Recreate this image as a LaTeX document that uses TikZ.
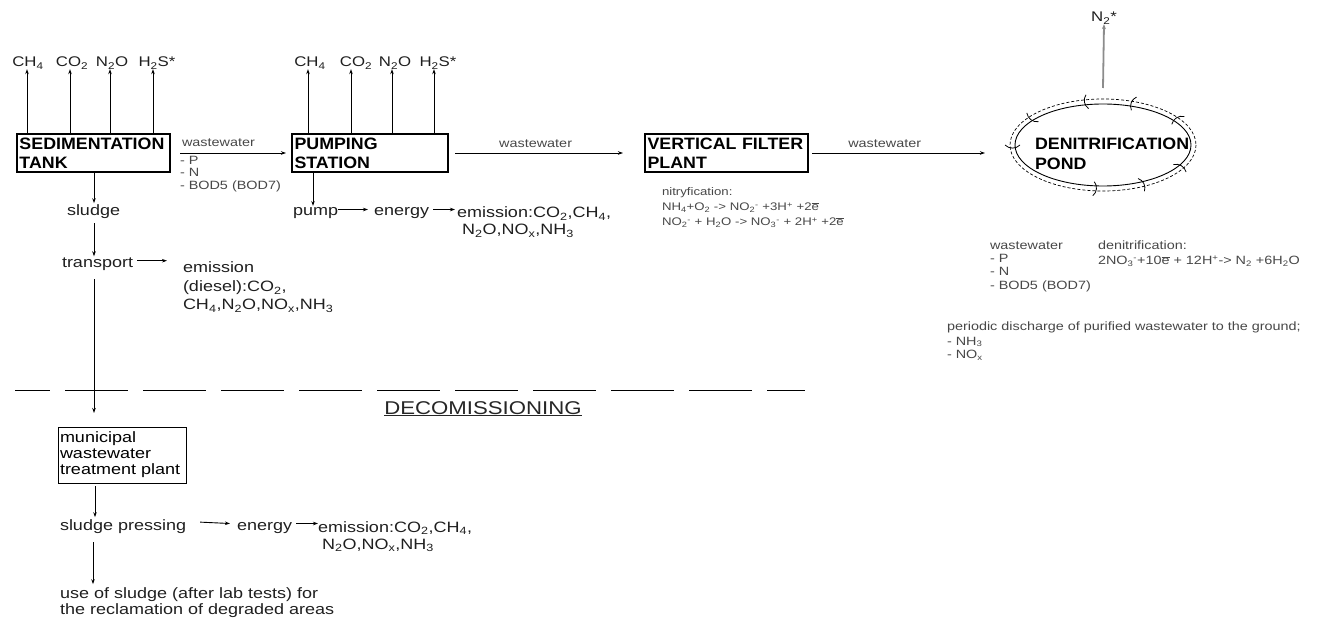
\documentclass[tikz,border=0pt]{standalone}
\usepackage{fontspec}
\setmainfont{Liberation Sans}[FakeStretch=1.2]
\newfontfamily\tfont{Liberation Sans}[FakeStretch=1.08]
\usetikzlibrary{arrows.meta,shapes.geometric}
\newcommand{\sbs}[1]{\textsubscript{#1}}
\newcommand{\sps}[1]{\textsuperscript{#1}}
\newcommand{\ionx}[2]{\textsubscript{#1}\textsuperscript{#2}}
\newcommand{\elec}{$\overline{\mbox{e}}$}
\newcommand{\fgas}{\fontsize{14}{16}\selectfont}
\newcommand{\flbl}{\fontsize{15}{16}\selectfont}
\newcommand{\fsmall}{\fontsize{12}{13}\selectfont}
\newcommand{\feq}{\fontsize{11}{12}\selectfont}
\newcommand{\ftitle}{\tfont\bfseries\fontsize{16.5}{19}\selectfont}
\newcommand{\fdec}{\fontsize{18.5}{20}\selectfont}
\begin{document}
\begin{tikzpicture}[x=1pt,y=-1pt,
  every node/.style={inner sep=0pt, outer sep=0pt},
  lbl/.style={anchor=base west, font=\flbl, text=black!88},
  gas/.style={anchor=base, font=\fgas, text=black!88},
  sm/.style={anchor=base west, font=\fsmall, text=black!72},
  eqn/.style={anchor=base west, font=\feq, text=black!72},
  boxn/.style={draw, line width=1.1pt, anchor=north west, align=left, font=\ftitle, inner xsep=1.5pt, inner ysep=1pt},
  arr/.style={-{Stealth[length=5pt,width=3.5pt]}, line width=0.9pt},
  mk/.style={line width=0.8pt}]
\useasboundingbox (0,0) rectangle (1323,620);

% ---- boxes
\node[boxn, minimum width=153pt, minimum height=38pt, text width=148pt] (sed) at (17,134) {SEDIMENTATION\\TANK};
\node[boxn, minimum width=156pt, minimum height=38pt, text width=151pt] (pst) at (292,134) {PUMPING\\STATION};
\node[boxn, minimum width=163pt, minimum height=38pt, text width=158pt] (vfp) at (645,134) {VERTICAL FILTER\\PLANT};
\node[boxn, minimum width=128pt, minimum height=56pt, text width=124pt, font=\fontsize{15}{16}\selectfont, line width=1pt] (muni) at (58,427) {municipal\\wastewater\\treatment plant};

% ---- pond
\node[ellipse, draw, line width=0.9pt, minimum width=176pt, minimum height=82pt] (pond) at (1103,145) {};
\draw[dash pattern=on 3pt off 2pt, line width=0.7pt] (pond.center) ellipse [x radius=93, y radius=46];
\foreach \t in {-100,-70,-141,180,96,65,-34,32}
  \draw[mk] ([shift={(pond.center)}]\t:83 and 37) to[bend left=45] ([shift={(pond.center)}]\t:98 and 51);
\node[anchor=base west, font=\ftitle] (pondt1) at (1035,150) {DENITRIFICATION};
\node[anchor=base west, font=\ftitle] (pondt2) at (1035,170) {POND};

% ---- gases above sedimentation tank
\node[gas] (g1) at (28,67) {CH\sbs{4}};
\node[gas] (g2) at (72,67) {CO\sbs{2}};
\node[gas] (g3) at (112,67) {N\sbs{2}O};
\node[gas] (g4) at (157,67) {H\sbs{2}S*};
\foreach \g/\x in {g1/27,g2/70,g3/110,g4/153}
  \draw[arr] (sed.north -| \x,0) -- (\x,0 |- \g.south);
% ---- gases above pumping station
\node[gas] (h1) at (310,67) {CH\sbs{4}};
\node[gas] (h2) at (356,67) {CO\sbs{2}};
\node[gas] (h3) at (395,67) {N\sbs{2}O};
\node[gas] (h4) at (438,67) {H\sbs{2}S*};
\foreach \g/\x in {h1/308,h2/351,h3/392,h4/434}
  \draw[arr] (pst.north -| \x,0) -- (\x,0 |- \g.south);

% ---- sedimentation -> pumping
\draw[arr] ([xshift=10pt]sed.east) -- ([xshift=-6pt]pst.west);
\node[sm] (ww1) at (182,147) {wastewater};
\node[sm] (p1) at (180,165) {- P};
\node[sm] (n1) at (180,177) {- N};
\node[sm] (b1) at (180,190) {- BOD5 (BOD7)};

% ---- pumping -> filter -> pond
\draw[arr] ([xshift=7pt]pst.east) -- node[pos=0.48, above=5pt, font=\fsmall, text=black!72] (ww2) {wastewater} ([xshift=-22pt]vfp.west);
\coordinate (pin) at ([xshift=-30pt]pond.west |- vfp.east);
\draw[arr] ([xshift=4pt]vfp.east) -- node[pos=0.42, above=5pt, font=\fsmall, text=black!72] (ww3) {wastewater} (pin);

% ---- nitrification
\node[eqn] (nit1) at (662,196) {nitryfication:};
\node[eqn] (nit2) at (662,211) {NH\sbs{4}+O\sbs{2} -{}> NO\ionx{2}{-} +3H\sps{+} +2\elec};
\node[eqn] (nit3) at (662,226) {NO\ionx{2}{-} + H\sbs{2}O -{}> NO\ionx{3}{-} + 2H\sps{+} +2\elec};

% ---- N2 out of pond
\node[gas] (n2) at (1104,22) {N\sbs{2}*};
\draw[-{Stealth[length=5pt,width=4pt]}, line width=1.8pt, draw=black!45] ([yshift=16pt]pond.north) -- (n2.south);

% ---- below pond
\node[sm] (pw) at (990,250) {wastewater};
\node[sm] (pp) at (990,263) {- P};
\node[sm] (pn) at (990,276) {- N};
\node[sm] (pb) at (990,290) {- BOD5 (BOD7)};
\node[sm] (den1) at (1098,250) {denitrification:};
\node[sm] (den2) at (1098,265) {2NO\ionx{3}{-}+10\elec{} + 12H\sps{+}-{}> N\sbs{2} +6H\sbs{2}O};
\node[sm] (per1) at (947,331) {periodic discharge of purified wastewater to the ground;};
\node[sm] (per2) at (947,345) {- NH\sbs{3}};
\node[sm] (per3) at (947,359) {- NO\sbs{x}};

% ---- sludge line
\node[lbl] (sludge) at (67,216) {sludge};
\node[lbl] (transp) at (62,268) {transport};
\node[lbl] (em1a) at (183,273) {emission};
\node[lbl] (em1b) at (183,292) {(diesel):CO\sbs{2},};
\node[lbl] (em1c) at (183,310) {CH\sbs{4},N\sbs{2}O,NO\sbs{x},NH\sbs{3}};
\draw[arr] (sed.south -| 94,0) -- ([yshift=2pt]94,0 |- sludge.north);
\draw[arr] ([yshift=-4pt]94,0 |- sludge.south) -- ([yshift=2pt]94,0 |- transp.north);
\draw[arr] ([xshift=4pt,yshift=4pt]transp.east) -- ([xshift=-16pt,yshift=4pt]em1a.west |- transp.east);
\draw[arr] ([yshift=-8pt]94,0 |- transp.south) -- ([yshift=14pt]94,0 |- muni.north);

% ---- pump line
\node[lbl] (pump) at (293,216) {pump};
\node[lbl] (en1) at (374,216) {energy};
\node[lbl] (em2a) at (457,218) {emission:CO\sbs{2},CH\sbs{4},};
\node[lbl] (em2b) at (462,235) {N\sbs{2}O,NO\sbs{x},NH\sbs{3}};
\draw[arr] (pst.south -| 313,0) -- ([yshift=2pt]313,0 |- pump.north);
\draw[arr] ([yshift=4pt]pump.east) -- ([xshift=-6pt,yshift=4pt]en1.west);
\draw[arr] ([xshift=4pt,yshift=4pt]en1.east) -- ([xshift=-2pt,yshift=4pt]em2a.west |- en1.east);

% ---- decommissioning separator
\coordinate (dl) at (15,390);
\coordinate (dr) at (805,390);
\draw[line width=1pt, dash pattern=on 63pt off 15pt, dash phase=28pt] (dl) -- (dr);
\node[anchor=base, font=\fdec, text=black!85] (decom) at (483,414) {\underline{DECOMISSIONING}};

% ---- after decommissioning
\node[lbl] (spr) at (60,530) {sludge pressing};
\node[lbl] (en2) at (237,530) {energy};
\node[lbl] (em3a) at (318,532) {emission:CO\sbs{2},CH\sbs{4},};
\node[lbl] (em3b) at (322,549) {N\sbs{2}O,NO\sbs{x},NH\sbs{3}};
\node[lbl] (use1) at (60,598) {use of sludge (after lab tests) for};
\node[lbl] (use2) at (60,614) {the reclamation of degraded areas};
\draw[arr] ([yshift=-3pt]muni.south -| 95,0) -- ([yshift=2pt]95,0 |- spr.north);
\draw[arr] ([xshift=14pt,yshift=4pt]spr.east) -- ([xshift=-7pt,yshift=4pt]en2.west);
\draw[arr] ([xshift=4pt,yshift=4pt]en2.east) -- ([xshift=0pt,yshift=4pt]em3a.west |- en2.east);
\draw[arr] ([yshift=-9pt]93,0 |- spr.south) -- ([yshift=3pt]93,0 |- use1.north);
\end{tikzpicture}
\end{document}
